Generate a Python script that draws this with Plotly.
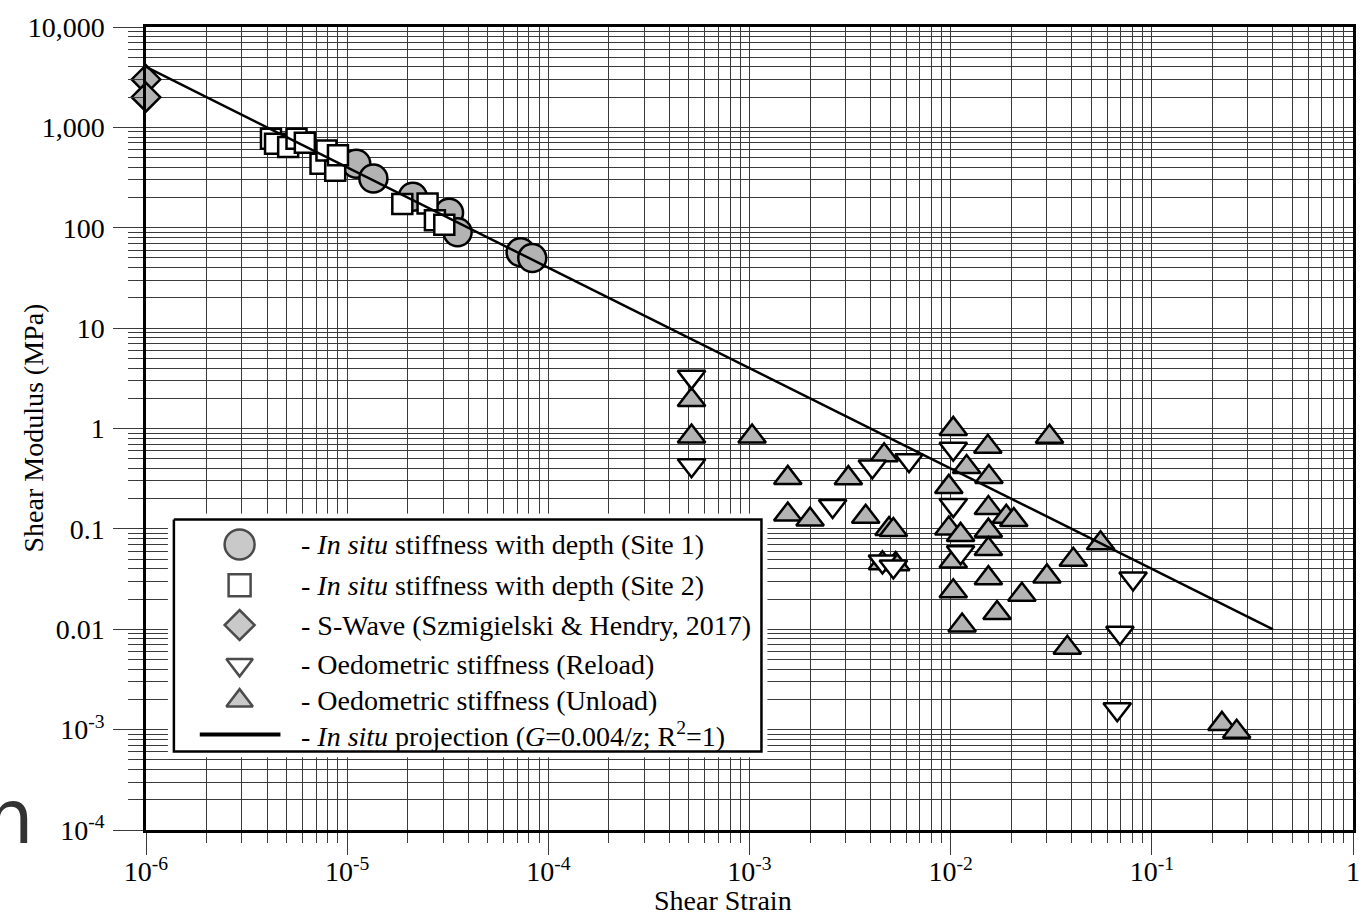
import plotly.graph_objects as go

# ---------------- data ----------------
site1_strain = [1.11e-5, 1.35e-5, 2.12e-5, 3.21e-5, 3.54e-5, 7.28e-5, 8.32e-5]
site1_G = [435, 310, 204, 141, 90, 57, 50]

site2_strain = [4.18e-6, 4.38e-6, 5.09e-6, 5.60e-6, 6.16e-6, 7.37e-6, 7.89e-6,
                8.72e-6, 9.0e-6, 1.88e-5, 2.51e-5, 2.73e-5, 3.04e-5]
site2_G = [771, 688, 638, 771, 703, 435, 590, 369, 527, 172, 174, 119, 107]

swave_strain = [1e-6, 1e-6]
swave_G = [3000, 2000]

unload_strain = [5.15e-4, 5.15e-4, 1.03e-3, 1.55e-3, 1.55e-3, 2.0e-3, 3.10e-3, 3.78e-3,
                 4.67e-3, 4.94e-3, 5.19e-3, 4.58e-3, 5.33e-3, 1.03e-2, 9.79e-3, 9.79e-3,
                 1.12e-2, 1.03e-2, 1.03e-2, 1.14e-2, 1.20e-2, 1.53e-2, 1.55e-2, 1.54e-2,
                 1.54e-2, 1.54e-2, 1.54e-2, 1.89e-2, 2.06e-2, 1.70e-2, 2.26e-2, 3.01e-2,
                 3.10e-2, 4.07e-2, 5.56e-2, 3.80e-2, 0.223, 0.264]
unload_G = [1.92, 0.833, 0.833, 0.322, 0.139, 0.124, 0.320, 0.132,
            0.540, 0.0998, 0.0975, 0.0455, 0.0445, 0.991, 0.262, 0.101,
            0.0871, 0.0473, 0.0239, 0.0109, 0.413, 0.657, 0.329, 0.161,
            0.096, 0.063, 0.0323, 0.132, 0.1225, 0.0145, 0.0221, 0.0336,
            0.826, 0.0492, 0.0718, 0.00655, 0.00114, 0.000951]

reload_strain = [5.15e-4, 5.15e-4, 2.59e-3, 4.08e-3, 6.21e-3, 1.03e-2, 1.03e-2,
                 1.12e-2, 4.58e-3, 5.19e-3, 8.07e-2, 6.94e-2, 6.73e-2]
reload_G = [3.27, 0.43, 0.169, 0.418, 0.482, 0.628, 0.1725,
            0.0585, 0.0473, 0.0422, 0.0321, 0.00925, 0.0016]

proj_strain = [1e-6, 0.4]
proj_G = [4000, 0.01]

x_tickvals = [1e-6, 1e-5, 1e-4, 1e-3, 1e-2, 1e-1, 1]
x_ticktext = ["10<sup>-6</sup>", "10<sup>-5</sup>", "10<sup>-4</sup>", "10<sup>-3</sup>",
              "10<sup>-2</sup>", "10<sup>-1</sup>", "1"]
y_tickvals = [1e-4, 1e-3, 1e-2, 1e-1, 1, 10, 100, 1000, 10000]
y_ticktext = ["10<sup>-4</sup>", "10<sup>-3</sup>", "0.01", "0.1", "1", "10", "100",
              "1,000", "10,000"]

legend_labels = [
    "- <i>In situ</i> stiffness with depth (Site 1)",
    "- <i>In situ</i> stiffness with depth (Site 2)",
    "- S-Wave (Szmigielski & Hendry, 2017)",
    "- Oedometric stiffness (Reload)",
    "- Oedometric stiffness (Unload)",
    "- <i>In situ</i> projection (<i>G</i>=0.004/<i>z</i>; R<sup>2</sup>=1)",
]

# ---------------- layout geometry ----------------
W, H = 1372, 919
ML, MR, MT, MB = 146, 14, 23, 89
PW = W - ML - MR
PH = H - MT - MB


def pxx(px):
    return (px - ML) / PW


def pxy(py):
    return (H - MB - py) / PH


FONT = "Liberation Serif"
FS = 28
GRAY = "#b3b3b3"
GRID = "#3a3a3a"
OUTLINE = dict(color="black", width=2.5)

fig = go.Figure()

fig.add_trace(go.Scatter(x=site1_strain, y=site1_G, mode="markers", showlegend=False,
                         marker=dict(symbol="circle", size=28, color=GRAY, line=OUTLINE)))
fig.add_trace(go.Scatter(x=site2_strain, y=site2_G, mode="markers", showlegend=False,
                         marker=dict(symbol="square", size=20, color="white", line=OUTLINE)))
fig.add_trace(go.Scatter(x=swave_strain, y=swave_G, mode="markers", showlegend=False,
                         cliponaxis=False,
                         marker=dict(symbol="diamond", size=22, color=GRAY, line=OUTLINE)))
fig.add_trace(go.Scatter(x=unload_strain, y=unload_G, mode="markers", showlegend=False,
                         marker=dict(symbol="triangle-up", size=24, color=GRAY, line=OUTLINE)))
fig.add_trace(go.Scatter(x=reload_strain, y=reload_G, mode="markers", showlegend=False,
                         marker=dict(symbol="triangle-down", size=24, color="white", line=OUTLINE)))
fig.add_trace(go.Scatter(x=proj_strain, y=proj_G, mode="lines", showlegend=False,
                         line=dict(color="black", width=2.5)))

# ---------------- hand-built legend (large symbols) ----------------
LX0, LX1, LY0, LY1 = 174, 764, 518, 751
fig.add_trace(go.Scatter(x=[LX0, LX1, LX1, LX0, LX0], y=[LY0, LY0, LY1, LY1, LY0],
                         xaxis="x2", yaxis="y2", mode="lines", fill="toself",
                         fillcolor="white", line=dict(color="black", width=2.5),
                         showlegend=False, hoverinfo="skip"))
row_y = [543, 584, 624, 664, 700, 734]
sym_x = 240
fig.add_trace(go.Scatter(x=[sym_x] * 5, y=row_y[:5], xaxis="x2", yaxis="y2", mode="markers",
                         showlegend=False, hoverinfo="skip",
                         marker=dict(symbol=["circle", "square", "diamond", "triangle-down",
                                             "triangle-up"],
                                     size=[30, 22, 23, 23, 23],
                                     color=[GRAY, "white", GRAY, "white", GRAY],
                                     line=OUTLINE)))
fig.add_trace(go.Scatter(x=[200, 281], y=[row_y[5]] * 2, xaxis="x2", yaxis="y2", mode="lines",
                         showlegend=False, hoverinfo="skip",
                         line=dict(color="black", width=4)))

annotations = []
for lab, yy in zip(legend_labels, row_y):
    annotations.append(dict(text=lab, x=300, y=yy, xref="x2", yref="y2", xanchor="left",
                            yanchor="middle", showarrow=False,
                            font=dict(family=FONT, size=FS, color="black")))

# axis titles
annotations.append(dict(text="Shear Strain", x=pxx(725), y=pxy(901), xref="paper", yref="paper",
                        xanchor="center", yanchor="middle", showarrow=False,
                        font=dict(family=FONT, size=FS, color="black")))
annotations.append(dict(text="Shear Modulus (MPa)", x=pxx(33), y=pxy(426), xref="paper",
                        yref="paper", xanchor="center", yanchor="middle", showarrow=False,
                        textangle=-90, font=dict(family=FONT, size=FS, color="black")))
# stray glyph at the lower-left edge of the reference image
annotations.append(dict(text="n", x=pxx(-17), y=pxy(863), xref="paper", yref="paper",
                        xanchor="left", yanchor="bottom", showarrow=False,
                        font=dict(family="DejaVu Sans", size=75, color="#333333")))

x_minor = [k * 10.0 ** e for e in range(-6, 0) for k in range(2, 10)]
y_minor = [k * 10.0 ** e for e in range(-4, 4) for k in range(2, 10)]

fig.update_layout(
    width=W, height=H,
    margin=dict(l=ML, r=MR, t=MT, b=MB, pad=0),
    paper_bgcolor="white", plot_bgcolor="white",
    font=dict(family=FONT, size=FS, color="black"),
    showlegend=False,
    annotations=annotations,
    xaxis=dict(type="log", range=[-6, 0], tickmode="array", tickvals=x_tickvals,
               ticktext=x_ticktext, ticks="outside", ticklen=22, tickwidth=1, tickcolor=GRID,
               showgrid=True, gridcolor=GRID, gridwidth=1, zeroline=False,
               showline=True, linecolor="black", linewidth=2.5, mirror=True,
               tickfont=dict(family=FONT, size=FS, color="black"), ticklabelstandoff=-7,
               minor=dict(tickmode="array", tickvals=x_minor, ticks="outside", ticklen=10,
                          tickwidth=1, tickcolor=GRID, showgrid=True, gridcolor=GRID,
                          gridwidth=1)),
    yaxis=dict(type="log", range=[-4, 4], tickmode="array", tickvals=y_tickvals,
               ticktext=y_ticktext, ticks="outside", ticklen=30, tickwidth=1, tickcolor=GRID,
               showgrid=True, gridcolor=GRID, gridwidth=1, zeroline=False,
               showline=True, linecolor="black", linewidth=2.5, mirror=True,
               tickfont=dict(family=FONT, size=FS, color="black"), ticklabelstandoff=3,
               minor=dict(tickmode="array", tickvals=y_minor, ticks="outside", ticklen=15,
                          tickwidth=1, tickcolor=GRID, showgrid=True, gridcolor=GRID,
                          gridwidth=1)),
    xaxis2=dict(domain=[pxx(168), pxx(770)], range=[168, 770], visible=False,
                anchor="y2", showgrid=False, zeroline=False, fixedrange=True),
    yaxis2=dict(domain=[pxy(757), pxy(512)], range=[757, 512], visible=False,
                anchor="x2", showgrid=False, zeroline=False, fixedrange=True),
)

fig.write_html("out.html")
